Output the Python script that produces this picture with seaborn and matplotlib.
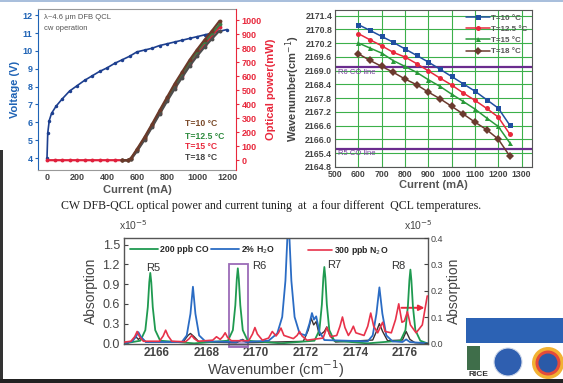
import numpy as np
import pandas as pd
import seaborn as sns
import matplotlib.pyplot as plt
from matplotlib.patches import Rectangle, Ellipse, FancyArrowPatch

sns.set_style("white")
plt.rcParams['font.family'] = ['Liberation Sans', 'DejaVu Sans']

# ---------------- left panel: L-I-V ----------------
iv_current = [0, 5, 15, 30, 60, 100, 150, 200, 250, 300, 350, 400, 450, 500, 550, 600,
              650, 700, 750, 800, 850, 900, 950, 1000, 1050, 1100, 1150, 1200]
iv_voltage = [4.0, 5.4, 6.1, 6.5, 6.9, 7.3, 7.75, 8.05, 8.35, 8.6, 8.85, 9.05, 9.3, 9.5, 9.7, 9.95,
              10.05, 10.15, 10.3, 10.4, 10.5, 10.6, 10.7, 10.8, 10.9, 11.0, 11.1, 11.2]

pw_zero_current = [0, 50, 100, 150, 200, 250, 300, 350, 400, 450]
pw_zero_power = [0, 0, 0, 0, 0, 0, 0, 0, 0, 0]
pw_current = [500, 540, 560, 600, 650, 700, 750, 800, 850, 900, 950, 1000, 1050, 1100, 1150]
pw_t10 = [0, 0, 15, 80, 165, 258, 355, 450, 545, 630, 715, 790, 860, 925, 995]
pw_t125 = [0, 0, 12, 74, 158, 250, 345, 440, 532, 617, 700, 775, 843, 905, 970]
pw_t15 = [0, 0, 10, 70, 152, 243, 337, 430, 520, 604, 686, 760, 826, 888, 950]
pw_t18 = [0, 0, 6, 64, 145, 235, 328, 420, 508, 590, 671, 743, 808, 868, 925]

temps = ["T=10 °C", "T=12.5 °C", "T=15 °C", "T=18 °C"]

# ---------------- right panel: current tuning ----------------
tune_current = [600, 650, 700, 750, 800, 850, 900, 950, 1000, 1050, 1100, 1150, 1200, 1250]
wn_t10 = [2171.01, 2170.76, 2170.50, 2170.24, 2169.95, 2169.67, 2169.38, 2169.07, 2168.75,
          2168.43, 2168.11, 2167.74, 2167.37, 2166.62]
wn_t125 = [2170.62, 2170.35, 2170.09, 2169.80, 2169.60, 2169.31, 2169.00, 2168.68, 2168.38,
           2168.03, 2167.71, 2167.36, 2166.98, 2166.23]
wn_t15 = [2170.21, 2169.99, 2169.77, 2169.44, 2169.19, 2168.93, 2168.61, 2168.32, 2167.98,
          2167.66, 2167.33, 2166.94, 2166.57, 2165.85]
wn_t18 = [2169.74, 2169.45, 2169.19, 2168.93, 2168.64, 2168.39, 2168.07, 2167.78, 2167.45,
          2167.11, 2166.76, 2166.43, 2166.02, 2165.27]
co_r6 = 2169.15
co_r5 = 2165.6

# ---------------- bottom panel: spectra ----------------
co_wn = [2164.7, 2165.33, 2165.53, 2165.63, 2165.69, 2165.73, 2165.77, 2165.83, 2165.93, 2166.13,
         2167.5, 2168.86, 2169.06, 2169.16, 2169.22, 2169.26, 2169.30, 2169.36, 2169.46, 2169.66,
         2171.0, 2172.35, 2172.55, 2172.65, 2172.71, 2172.75, 2172.79, 2172.85, 2172.95, 2173.15,
         2174.5, 2175.82, 2176.02, 2176.12, 2176.18, 2176.22, 2176.26, 2176.32, 2176.42, 2176.62, 2176.9]
co_abs = [0.0, 0.04, 0.2, 0.55, 0.93, 1.07, 0.93, 0.55, 0.2, 0.04,
          0.0, 0.04, 0.2, 0.58, 0.98, 1.14, 0.98, 0.58, 0.2, 0.04,
          0.0, 0.04, 0.2, 0.59, 1.0, 1.16, 1.0, 0.59, 0.2, 0.04,
          0.0, 0.04, 0.2, 0.57, 0.96, 1.12, 0.96, 0.57, 0.2, 0.04, 0.0]

h2o_wn = [2164.70, 2165.00, 2165.15, 2165.25, 2165.35, 2165.55, 2167.00, 2167.20, 2167.35, 2167.45,
          2167.55, 2167.70, 2167.95, 2169.20, 2169.40, 2169.60, 2170.50, 2170.85, 2171.05, 2171.18,
          2171.30, 2171.42, 2171.55, 2171.75, 2172.00, 2172.15, 2172.25, 2172.33, 2172.42, 2172.55,
          2172.75, 2174.50, 2174.70, 2174.85, 2174.97, 2175.09, 2175.25, 2175.50, 2175.90, 2176.05,
          2176.20, 2176.90]
h2o_abs = [0.0, 0.03, 0.10, 0.17, 0.10, 0.02, 0.02, 0.12, 0.45, 0.86,
           0.45, 0.12, 0.03, 0.02, 0.05, 0.02, 0.04, 0.15, 0.40, 0.95,
           1.95, 0.95, 0.40, 0.15, 0.12, 0.30, 0.46, 0.36, 0.41, 0.18,
           0.05, 0.03, 0.12, 0.45, 0.85, 0.45, 0.12, 0.03, 0.02, 0.06,
           0.02, 0.0]

n2o_wn = [2164.70, 2164.95, 2165.10, 2165.20, 2165.30, 2165.45, 2166.10, 2166.25, 2166.35, 2166.45,
          2166.60, 2167.15, 2167.30, 2167.40, 2167.50, 2167.65, 2168.25, 2168.40, 2168.55, 2168.65,
          2168.75, 2168.85, 2169.00, 2169.70, 2169.85, 2169.95, 2170.05, 2170.25, 2170.50, 2170.65,
          2170.80, 2170.90, 2171.00, 2171.12, 2171.50, 2171.65, 2171.75, 2171.85, 2172.05, 2172.70,
          2172.85, 2173.00, 2173.25, 2173.38, 2173.48, 2173.58, 2173.72, 2173.82, 2173.92, 2174.02,
          2174.35, 2174.50, 2174.62, 2174.74, 2174.90, 2175.00, 2175.10, 2175.20, 2175.45, 2175.62,
          2175.75, 2175.88, 2175.98, 2176.10, 2176.22, 2176.45, 2176.70, 2176.90]
n2o_abs = [0.005, 0.008, 0.025, 0.045, 0.025, 0.008, 0.008, 0.028, 0.050, 0.028,
           0.008, 0.006, 0.018, 0.030, 0.018, 0.008, 0.012, 0.025, 0.015, 0.025,
           0.040, 0.022, 0.010, 0.010, 0.035, 0.060, 0.035, 0.012, 0.020, 0.045,
           0.028, 0.040, 0.058, 0.030, 0.018, 0.030, 0.045, 0.028, 0.012, 0.020,
           0.060, 0.025, 0.030, 0.065, 0.100, 0.060, 0.030, 0.045, 0.065, 0.040,
           0.030, 0.065, 0.115, 0.065, 0.040, 0.060, 0.080, 0.045, 0.040, 0.090,
           0.150, 0.080, 0.085, 0.120, 0.070, 0.040, 0.070, 0.180]

mix_wn = [2164.70, 2164.95, 2165.15, 2165.25, 2165.35, 2165.55, 2167.05, 2167.25, 2167.35, 2167.50,
          2167.70, 2169.20, 2169.45, 2169.65, 2171.90, 2172.10, 2172.22, 2172.32, 2172.42, 2172.55,
          2172.75, 2172.85, 2172.97, 2173.20, 2174.70, 2174.85, 2174.97, 2175.10, 2175.30, 2175.90,
          2176.05, 2176.20, 2176.40, 2176.90]
mix_abs = [0.0, 0.02, 0.10, 0.06, 0.09, 0.02, 0.02, 0.12, 0.15, 0.10,
           0.02, 0.01, 0.06, 0.01, 0.03, 0.20, 0.38, 0.28, 0.33, 0.12,
           0.18, 0.25, 0.12, 0.02, 0.05, 0.18, 0.30, 0.18, 0.04, 0.05,
           0.18, 0.06, 0.01, 0.0]

caption = "CW DFB-QCL optical power and current tuning  at  a four different  QCL temperatures."

W, H = 563, 383
fig = plt.figure(figsize=(W / 100, H / 100), dpi=100)


def box(x0, y0, x1, y1):
    return [x0 / W, 1 - y1 / H, (x1 - x0) / W, (y1 - y0) / H]


blue_ax = '#1f63b5'
red_ax = '#e8283c'
tick_gray = '#444444'

# ---------- left panel ----------
ax1 = fig.add_axes(box(38, 9, 236, 170))
sns.lineplot(x=iv_current, y=iv_voltage, ax=ax1, color='#1d3f8f', marker='o',
             markersize=2.5, markeredgewidth=0, lw=1.2, sort=False, estimator=None)
ax1.set_xlim(-60, 1260)
ax1.set_ylim(3.33, 12.35)
ax1.set_yticks(range(4, 13))
ax1.set_xticks(range(0, 1201, 200))
ax1.tick_params(axis='y', colors=blue_ax, labelsize=6.5, length=2.5, width=0.8, pad=1.5)
ax1.tick_params(axis='x', colors=tick_gray, labelsize=6.5, length=2, direction='in', pad=2)
for lab in ax1.get_yticklabels() + ax1.get_xticklabels():
    lab.set_fontweight('bold')
ax1.set_ylabel("Voltage (V)", color=blue_ax, fontsize=8, fontweight='bold', labelpad=2)
ax1.set_xlabel("Current (mA)", color='#555555', fontsize=8, fontweight='bold', labelpad=2)
ax1.spines['left'].set_color(blue_ax)
ax1.spines['right'].set_visible(False)
ax1.spines['top'].set_color('#999999')
ax1.spines['bottom'].set_color('#999999')
for s in ax1.spines.values():
    s.set_linewidth(0.8)
ax1.text(0.03, 0.95, "λ~4.6 μm DFB QCL", transform=ax1.transAxes, fontsize=5.5,
         color='#555555', va='center')
ax1.text(0.03, 0.88, "cw operation", transform=ax1.transAxes, fontsize=5.5,
         color='#555555', va='center')

ax1r = ax1.twinx()
pw_colors = {"T=10 °C": '#6b3a2a', "T=12.5 °C": '#3b7d46', "T=15 °C": '#e0203c', "T=18 °C": '#4d4d4d'}
pw_df = pd.concat([
    pd.DataFrame({'current': pw_zero_current + pw_current, 'power': pw_zero_power + pw_t15, 'T': "T=15 °C"}),
    pd.DataFrame({'current': pw_current, 'power': pw_t125, 'T': "T=12.5 °C"}),
    pd.DataFrame({'current': pw_current, 'power': pw_t18, 'T': "T=18 °C"}),
    pd.DataFrame({'current': pw_current, 'power': pw_t10, 'T': "T=10 °C"}),
])
sns.lineplot(data=pw_df, x='current', y='power', hue='T', palette=pw_colors,
             hue_order=["T=15 °C", "T=12.5 °C", "T=18 °C", "T=10 °C"], ax=ax1r,
             marker='o', markersize=2.8, markeredgewidth=0, lw=1.6, sort=False,
             estimator=None, legend=False)
ax1r.set_ylim(-70, 1080)
ax1r.set_yticks(range(0, 1001, 100))
ax1r.set_ylabel("Optical power(mW)", color=red_ax, fontsize=8, fontweight='bold', labelpad=3)
ax1r.set_xlabel("")
ax1r.tick_params(axis='y', colors=red_ax, labelsize=6.5, length=2.5, width=0.8, pad=1.5)
for lab in ax1r.get_yticklabels():
    lab.set_fontweight('bold')
ax1r.spines['right'].set_color(red_ax)
ax1r.spines['right'].set_linewidth(0.8)
ax1r.spines['left'].set_visible(False)
ax1r.spines['top'].set_visible(False)
ax1r.spines['bottom'].set_visible(False)
legend_y = [0.286, 0.205, 0.149, 0.075]
legend_txt_colors = ['#7a4a2a', '#2e8b3e', '#e8283c', '#444444']
for t, yy, c in zip(temps, legend_y, legend_txt_colors):
    ax1r.text(0.74, yy, t, transform=ax1r.transAxes, fontsize=6.2, fontweight='bold',
              color=c, va='center')

# ---------- right panel ----------
ax2 = fig.add_axes(box(335, 10, 532, 167))
tune_df = pd.concat([
    pd.DataFrame({'current': tune_current, 'wn': wn_t10, 'T': temps[0]}),
    pd.DataFrame({'current': tune_current, 'wn': wn_t125, 'T': temps[1]}),
    pd.DataFrame({'current': tune_current, 'wn': wn_t15, 'T': temps[2]}),
    pd.DataFrame({'current': tune_current, 'wn': wn_t18, 'T': temps[3]}),
])
ax2.grid(True, color='#3cb04a', lw=0.8)
ax2.set_axisbelow(True)
ax2.axhline(co_r6, color='#6a2c8e', lw=1.6)
ax2.axhline(co_r5, color='#6a2c8e', lw=1.6)
sns.lineplot(data=tune_df, x='current', y='wn', hue='T', style='T',
             palette=['#1f4fa0', '#e8283c', '#2a9a3a', '#6b3a2e'],
             markers=['s', 'o', '^', 'D'], dashes=False, markersize=3.6,
             markeredgewidth=0, lw=1.1, ax=ax2, sort=False, estimator=None)
ax2.set_xlim(500, 1345)
ax2.set_ylim(2164.8, 2171.65)
ax2.set_xticks(range(500, 1301, 100))
yt = [2164.8 + 0.6 * i for i in range(12)]
ax2.set_yticks(yt)
ax2.set_yticklabels(["%.1f" % v for v in yt])
ax2.tick_params(colors=tick_gray, labelsize=6.3, length=2, direction='in', pad=2)
for lab in ax2.get_yticklabels() + ax2.get_xticklabels():
    lab.set_fontweight('bold')
ax2.set_ylabel("Wavenumber(cm$^{-1}$)", fontsize=8, fontweight='bold', color='#444444', labelpad=2)
ax2.set_xlabel("Current (mA)", fontsize=8, fontweight='bold', color='#555555', labelpad=1)
for s in ax2.spines.values():
    s.set_color('#555555')
    s.set_linewidth(0.8)
ax2.text(515, co_r6 - 0.08, "R6 CO line", fontsize=5.5, color='#7a3f9e', va='top')
ax2.text(515, co_r5 - 0.08, "R5 CO line", fontsize=5.5, color='#7a3f9e', va='top')
sns.move_legend(ax2, 'upper right', frameon=False, fontsize=5.8, title=None,
                handlelength=3.0, labelspacing=0.45, borderaxespad=0.1,
                handletextpad=0.2)
for txt in ax2.get_legend().get_texts():
    txt.set_color('#555555')
    txt.set_fontweight('bold')

# caption
fig.text(271 / W, 1 - 206 / H, caption, ha='center', va='center', fontsize=8.6,
         family=['Liberation Serif', 'DejaVu Serif'], color='#222222')

# ---------- bottom panel ----------
ax3 = fig.add_axes(box(124, 238, 428, 344))
sns.lineplot(x=mix_wn, y=mix_abs, ax=ax3, color='#3a3030', lw=1.0, sort=False,
             estimator=None, label='_nolegend_')
sns.lineplot(x=co_wn, y=co_abs, ax=ax3, color='#1f9a50', lw=1.3, sort=False,
             estimator=None, label='200 ppb CO')
sns.lineplot(x=h2o_wn, y=h2o_abs, ax=ax3, color='#2b6cc4', lw=1.3, sort=False,
             estimator=None, label='2% H$_2$O')
ax3.set_xlim(2164.67, 2176.93)
ax3.set_ylim(-0.01, 1.6)
ax3.set_yticks([0.0, 0.3, 0.6, 0.9, 1.2, 1.5])
ax3.set_yticklabels(['0.0', '0.3', '0.6', '0.9', '1.2', '1.5'])
ax3.set_xticks(range(2166, 2177, 2))
ax3.tick_params(axis='y', colors=tick_gray, labelsize=9, length=3, direction='in', pad=3)
ax3.tick_params(axis='x', colors=tick_gray, labelsize=8.5, length=3, direction='in', pad=2)
for lab in ax3.get_xticklabels():
    lab.set_fontweight('bold')
ax3.set_ylabel("Absorption", fontsize=10, color='#444444', labelpad=3)
ax3.set_xlabel("Wavenumber (cm$^{-1}$)", fontsize=10.5, color='#444444', labelpad=0)
for s in ax3.spines.values():
    s.set_color('#555555')
    s.set_linewidth(1.0)
ax3.legend(loc='upper left', bbox_to_anchor=(0.0, 1.0), ncol=2, frameon=False,
           handlelength=3.2, columnspacing=0.3, handletextpad=0.2,
           borderaxespad=0.3, prop={'weight': 'bold', 'size': 6.3})
ax3.text(0.03, 1.12, "x10$^{-5}$", transform=ax3.transAxes, fontsize=7.5,
         color='#444444', ha='center', va='center')
# R6 highlight
ax3.add_patch(Rectangle((2168.89, -0.06), 0.8, 0.08, facecolor='#b9a6d6', edgecolor='none',
                        clip_on=False))
ax3.add_patch(Rectangle((2168.89, -0.06), 0.8, 1.26, facecolor='none', edgecolor='#9b6bb8',
                        lw=1.3, clip_on=False))
ax3.text(2165.55, 1.07, "R5", fontsize=8, color='#333333', va='bottom')
ax3.text(2169.85, 1.1, "R6", fontsize=8, color='#333333', va='bottom')
ax3.text(2172.85, 1.12, "R7", fontsize=8, color='#333333', va='bottom')
ax3.text(2175.45, 1.1, "R8", fontsize=8, color='#333333', va='bottom')
ax3.add_patch(FancyArrowPatch((2175.75, 0.54), (2176.9, 0.54), arrowstyle='-|>',
                              mutation_scale=8, color='#e8283c', lw=1.4, clip_on=False))

ax3r = ax3.twinx()
sns.lineplot(x=n2o_wn, y=n2o_abs, ax=ax3r, color='#e8324a', lw=1.2, sort=False,
             estimator=None, label='300 ppb N$_2$O')
ax3r.set_ylim(-0.0025, 0.4)
ax3r.set_yticks([0.0, 0.1, 0.2, 0.3, 0.4])
ax3r.set_yticklabels(['0.0', '0.1', '0.2', '0.3', '0.4'])
ax3r.tick_params(axis='y', colors=tick_gray, labelsize=6.5, length=3, direction='in', pad=2)
ax3r.set_ylabel("Absorption", fontsize=10, color='#444444', labelpad=3)
for s in ax3r.spines.values():
    s.set_visible(False)
ax3r.legend(loc='upper left', bbox_to_anchor=(0.585, 1.0), frameon=False,
            handlelength=2.8, handletextpad=0.2, borderaxespad=0.3,
            prop={'weight': 'bold', 'size': 6.3})
ax3r.text(0.97, 1.12, "x10$^{-5}$", transform=ax3r.transAxes, fontsize=7.5,
          color='#444444', ha='center', va='center')

# ---------- slide decorations ----------
fig.add_artist(Rectangle((0, 1 - 2 / H), 1, 2 / H, transform=fig.transFigure,
                         facecolor='#a9bfdc', edgecolor='none'))
fig.add_artist(Rectangle((0, 0), 3 / W, 1 - 150 / H, transform=fig.transFigure,
                         facecolor='#333333', edgecolor='none'))
fig.add_artist(Rectangle((0, 0), 1, 4 / H, transform=fig.transFigure,
                         facecolor='#222222', edgecolor='none'))
fig.add_artist(Rectangle((466 / W, 1 - 343 / H), 97 / W, 25 / H, transform=fig.transFigure,
                         facecolor='#2c62b4', edgecolor='none'))
fig.add_artist(Rectangle((467 / W, 1 - 370 / H), 13 / W, 24 / H, transform=fig.transFigure,
                         facecolor='#3f6e4a', edgecolor='none'))
fig.text(478 / W, 1 - 375 / H, "RICE", fontsize=6, fontweight='bold', color='#333333',
         ha='center', va='center')
fig.add_artist(Ellipse((508 / W, 1 - 362 / H), 28 / W, 28 / H, transform=fig.transFigure,
                       facecolor='#2f5fb0', edgecolor='#cfd8ea', lw=0.8))
fig.add_artist(Ellipse((548 / W, 1 - 363 / H), 32 / W, 32 / H, transform=fig.transFigure,
                       facecolor='#f2b233', edgecolor='none'))
fig.add_artist(Ellipse((548 / W, 1 - 363 / H), 25 / W, 25 / H, transform=fig.transFigure,
                       facecolor='#e34b3a', edgecolor='none'))
fig.add_artist(Ellipse((548 / W, 1 - 363 / H), 19 / W, 19 / H, transform=fig.transFigure,
                       facecolor='#2a5aa8', edgecolor='none'))

fig.savefig("out.png", dpi=100)
